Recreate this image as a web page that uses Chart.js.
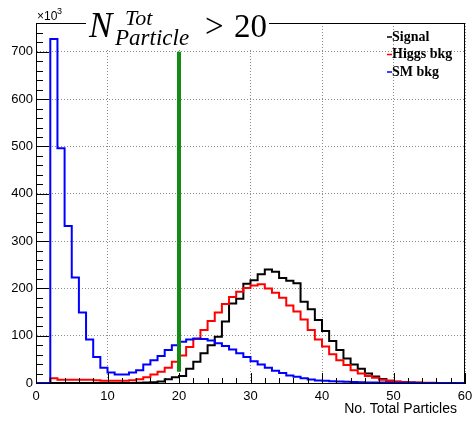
<!DOCTYPE html>
<html>
<head>
<meta charset="utf-8">
<script src="https://cdn.jsdelivr.net/npm/chart.js@4.4.1/dist/chart.umd.min.js"></script>
<style>
  html, body { margin: 0; padding: 0; background: #fff; }
</style>
</head>
<body>
<canvas id="grafico" width="473" height="421"></canvas>
<script>
// ---------------------
// Histogram data (entries per bin, in units of 10^3)
// ---------------------
const binLowEdges = [
   0,  1,  2,  3,  4,  5,  6,  7,  8,  9,
  10, 11, 12, 13, 14, 15, 16, 17, 18, 19,
  20, 21, 22, 23, 24, 25, 26, 27, 28, 29,
  30, 31, 32, 33, 34, 35, 36, 37, 38, 39,
  40, 41, 42, 43, 44, 45, 46, 47, 48, 49,
  50, 51, 52, 53, 54, 55, 56, 57, 58, 59
];
const BIN_WIDTH = 1;

const signal = [
    0,   0,   0,   0,   0,   0,   0,   0,   0,   0,
    0,   0,   0,   0, 0.3, 0.8, 1.5,   3,   8,  12,
   15,  30,  45,  63,  80,  98, 130, 168, 178, 210,
  217, 230, 240, 235, 222, 216, 211, 172, 156, 133,
  110,  89,  70,  52,  39,  30,  20,  14, 8.5, 4.5,
  2.5, 1.5, 0.8, 0.3, 0.1,   0,   0,   0,   0,   0
];

const higgsBkg = [
    0,   0,  10,   7,   7,   7,   7,   7,   6,   5,
    5,   5,   5,   6,   8,  12,  18,  24,  32,  45,
   58,  76,  93, 112, 131, 149, 167, 182, 193, 201,
  206, 209, 200, 191, 180, 164, 151, 134, 112,  92,
   77,  61,  48,  38,  27,  20,  15,  11,   7, 4.5,
    3,   2, 1.2, 0.8, 0.5, 0.3, 0.2, 0.1, 0.1,   0
];

const smBkg = [
    0,   0, 727, 496, 332, 223, 149,  92,  55,  32,
   22,  18,  18,  22,  27,  39,  48,  57,  70,  80,
   87,  92,  94,  93,  90,  84,  78,  71,  63,  55,
   46,  39,  32,  26,  21,  16,  13,  10, 7.5, 5.5,
  4.5, 3.5,   3, 2.5,   2, 1.5, 1.2,   1, 0.8, 0.6,
  0.5, 0.4, 0.3, 0.2, 0.2, 0.1, 0.1, 0.1,   0,   0
];

// cut line at N = 20 (vertical extent in units of 10^3)
const CUT_VALUE = 20;
const CUT_RANGE = [24, 700];

// axis ranges and tick labels
const X_RANGE = [0, 60];
const Y_RANGE = [0, 761];
const xTickLabels = [0, 10, 20, 30, 40, 50, 60];
const yTickLabels = [0, 100, 200, 300, 400, 500, 600, 700];

const legendLabels = ['Signal', 'Higgs bkg', 'SM bkg'];
const CORES = ['#000000', '#ff0000', '#0000ff'];

// ---------------------
// Helpers
// ---------------------
function toSteps(values) {
    const pts = binLowEdges.map((x, i) => ({ x, y: values[i] }));
    const last = binLowEdges.length - 1;
    pts.push({ x: binLowEdges[last] + BIN_WIDTH, y: values[last] });
    return pts;
}

// ---------------------
// ROOT-style decorations: inner ticks, frame, title, legend
// ---------------------
const rootDecor = {
    id: 'rootDecor',
    afterDraw(chart) {
        const ctx = chart.ctx;
        const area = chart.chartArea;
        const xs = chart.scales.x;
        const ys = chart.scales.y;

        ctx.save();
        ctx.strokeStyle = '#000';
        ctx.lineWidth = 1;

        // x ticks (major every 10, minor every 2)
        ctx.beginPath();
        for (let v = X_RANGE[0]; v <= X_RANGE[1]; v += 2) {
            const px = Math.round(xs.getPixelForValue(v)) + 0.5;
            const len = v % 10 === 0 ? 10 : 5;
            ctx.moveTo(px, area.bottom);
            ctx.lineTo(px, area.bottom - len);
        }
        // y ticks (major every 100, minor every 20)
        for (let v = 0; v <= Y_RANGE[1]; v += 20) {
            const py = Math.round(ys.getPixelForValue(v)) + 0.5;
            const len = v % 100 === 0 ? 13 : 7;
            ctx.moveTo(area.left, py);
            ctx.lineTo(area.left + len, py);
        }
        ctx.stroke();

        // frame
        ctx.strokeRect(area.left + 0.5, area.top + 0.5, area.right - area.left - 1, area.bottom - area.top);

        // title box
        ctx.fillStyle = '#fff';
        ctx.fillRect(86, 4, 183, 44);
        ctx.fillStyle = '#000';
        ctx.textBaseline = 'alphabetic';
        ctx.textAlign = 'left';
        ctx.font = 'italic 35px "Liberation Serif"';
        ctx.fillText('N', 89, 37);
        ctx.font = 'italic 22px "Liberation Serif"';
        ctx.fillText('Tot', 125, 25);
        ctx.font = 'italic 23px "Liberation Serif"';
        ctx.fillText('Particle', 115, 45);
        ctx.font = '33px "Liberation Serif"';
        ctx.fillText('>', 205, 37);
        ctx.fillText('20', 234, 37);

        // axis multiplier
        ctx.font = '12px "Liberation Sans"';
        ctx.fillText('\u00d710', 37, 20);
        ctx.font = '9px "Liberation Sans"';
        ctx.fillText('3', 57, 14);

        // x axis title
        ctx.font = '14px "Liberation Sans"';
        ctx.textAlign = 'right';
        ctx.textBaseline = 'middle';
        ctx.fillText('No. Total Particles', 457, 409);

        // legend
        ctx.textAlign = 'left';
        ctx.font = 'bold 14px "Liberation Serif"';
        legendLabels.forEach((txt, i) => {
            const y = 37 + i * 17.5;
            ctx.strokeStyle = CORES[i];
            ctx.lineWidth = 1.5;
            ctx.beginPath();
            ctx.moveTo(387, y);
            ctx.lineTo(392, y);
            ctx.stroke();
            ctx.fillStyle = '#000';
            ctx.fillText(txt, 392, y);
        });

        ctx.restore();
    }
};

// ---------------------
// Chart
// ---------------------
const ctx = document.getElementById('grafico').getContext('2d');

const histStyle = (label, data, cor, ordem) => ({
    label,
    data: toSteps(data),
    borderColor: cor,
    backgroundColor: cor,
    borderWidth: 2,
    stepped: 'before',
    pointRadius: 0,
    fill: false,
    order: ordem
});

new Chart(ctx, {
    type: 'line',
    data: {
        datasets: [
            histStyle(legendLabels[0], signal, CORES[0], 3),
            histStyle(legendLabels[1], higgsBkg, CORES[1], 2),
            histStyle(legendLabels[2], smBkg, CORES[2], 1),
            {
                label: 'cut',
                data: [{ x: CUT_VALUE, y: CUT_RANGE[0] }, { x: CUT_VALUE, y: CUT_RANGE[1] }],
                borderColor: '#128c12',
                borderWidth: 4,
                pointRadius: 0,
                order: 0
            }
        ]
    },
    options: {
        responsive: false,
        animation: false,
        layout: { padding: { top: 23, right: 8, left: 0, bottom: 0 } },
        plugins: {
            legend: { display: false },
            tooltip: { enabled: false }
        },
        scales: {
            x: {
                type: 'linear',
                min: X_RANGE[0],
                max: X_RANGE[1],
                afterFit: (scale) => {
                    scale.height = 38;
                    scale.paddingLeft = 0;
                    scale.paddingRight = 0;
                },
                afterBuildTicks: (scale) => {
                    scale.ticks = xTickLabels.map(v => ({ value: v }));
                },
                ticks: {
                    color: '#000',
                    padding: 6,
                    maxRotation: 0,
                    autoSkip: false,
                    font: { family: 'Liberation Sans', size: 13 }
                },
                grid: { color: '#8a8a8a', lineWidth: 1, drawTicks: false },
                border: { color: '#000', dash: [1, 2] }
            },
            y: {
                min: Y_RANGE[0],
                max: Y_RANGE[1],
                afterFit: (scale) => {
                    scale.width = 36;
                    scale.paddingTop = 0;
                    scale.paddingBottom = 0;
                },
                afterBuildTicks: (scale) => {
                    scale.ticks = yTickLabels.map(v => ({ value: v }));
                },
                ticks: {
                    color: '#000',
                    padding: 3,
                    autoSkip: false,
                    font: { family: 'Liberation Sans', size: 13 }
                },
                grid: { color: '#8a8a8a', lineWidth: 1, drawTicks: false },
                border: { color: '#000', dash: [1, 2] }
            }
        }
    },
    plugins: [rootDecor]
});
</script>
</body>
</html>
